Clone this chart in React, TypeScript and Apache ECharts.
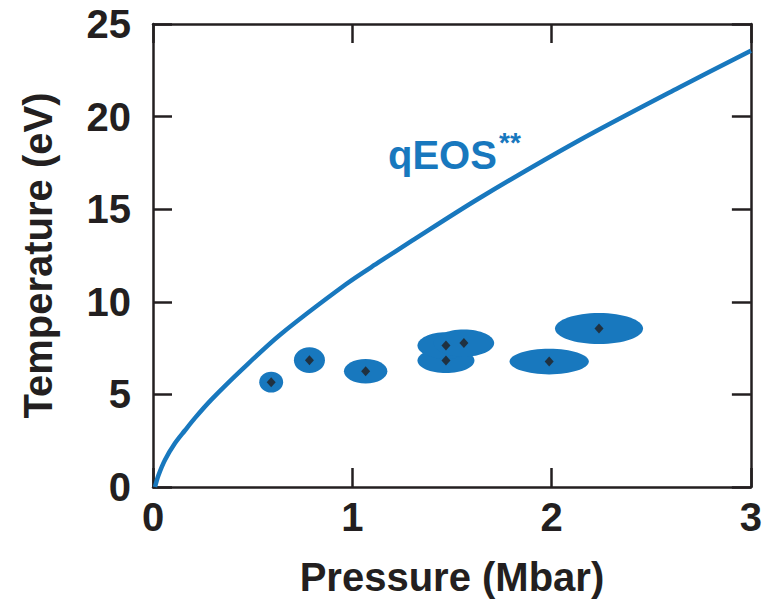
import React, { useEffect, useRef } from "react";
import * as echarts from "echarts";

// qEOS** curve (Pressure in Mbar, Temperature in eV)
const curvePressure = [0.01, 0.027, 0.06, 0.11, 0.16, 0.21, 0.293, 0.45, 0.635, 0.968, 1.135, 1.3, 1.635, 2.135, 2.635, 3.0];
const curveTemperature = [0, 0.62, 1.46, 2.36, 3.05, 3.72, 4.72, 6.38, 8.2, 10.95, 12.15, 13.3, 15.58, 18.7, 21.55, 23.55];

// measured points with error ellipses
const pointPressure = [0.593, 0.785, 1.067, 1.47, 1.47, 1.56, 1.988, 2.238];
const pointTemperature = [5.66, 6.85, 6.25, 6.83, 7.64, 7.77, 6.77, 8.56];
const pointPressureErr = [0.06, 0.078, 0.109, 0.143, 0.143, 0.152, 0.199, 0.221];
const pointTemperatureErr = [0.56, 0.69, 0.66, 0.68, 0.72, 0.74, 0.69, 0.84];

const xMin = 0, xMax = 3, xStep = 1;
const yMin = 0, yMax = 25, yStep = 5;

const BLUE = "#1878be";
const INK = "#231f20";
const FONT = "'Liberation Sans', Arial, Helvetica, sans-serif";

export default function App() {
  const ref = useRef<HTMLDivElement>(null);
  useEffect(() => {
    if (!ref.current) return;
    const chart = echarts.init(ref.current, undefined, { renderer: "svg" });
    const axisLine = { show: true, onZero: false, lineStyle: { color: INK, width: 2.5 } };
    const tickIn = { show: true, inside: true, length: 19, lineStyle: { color: INK, width: 2.5 } };
    const labelStyle = { color: INK, fontSize: 40, fontWeight: "bold" as const, fontFamily: FONT };
    chart.setOption({
      animation: false,
      backgroundColor: "#ffffff",
      grid: { left: 153, right: 12, top: 24, bottom: 118 },
      xAxis: [
        {
          type: "value", min: xMin, max: xMax, interval: xStep, position: "bottom",
          axisLine, axisTick: tickIn, splitLine: { show: false },
          axisLabel: { ...labelStyle, margin: 10 },
          name: "Pressure (Mbar)", nameLocation: "middle", nameGap: 70,
          nameTextStyle: { ...labelStyle },
        },
        {
          type: "value", min: xMin, max: xMax, interval: xStep, position: "top",
          axisLine, axisTick: tickIn, splitLine: { show: false }, axisLabel: { show: false },
        },
      ],
      yAxis: [
        {
          type: "value", min: yMin, max: yMax, interval: yStep, position: "left",
          axisLine, axisTick: tickIn, splitLine: { show: false },
          axisLabel: { ...labelStyle, margin: 22 },
          name: "Temperature (eV)", nameLocation: "middle", nameGap: 95,
          nameTextStyle: { ...labelStyle },
        },
        {
          type: "value", min: yMin, max: yMax, interval: yStep, position: "right",
          axisLine, axisTick: tickIn, splitLine: { show: false }, axisLabel: { show: false },
        },
      ],
      graphic: [
        {
          type: "text", left: 388, top: 135,
          style: { text: "qEOS", fill: BLUE, font: `bold 40px ${FONT}` },
        },
        {
          type: "text", left: 499, top: 128,
          style: { text: "**", fill: BLUE, font: `bold 28px ${FONT}` },
        },
      ],
      series: [
        {
          type: "line",
          data: curvePressure.map((p, i) => [p, curveTemperature[i]]),
          showSymbol: false, smooth: 0.3,
          lineStyle: { color: BLUE, width: 4.5 },
          z: 2,
        },
        {
          type: "custom",
          data: pointPressure.map((p, i) => [p, pointTemperature[i], pointPressureErr[i], pointTemperatureErr[i]]),
          renderItem: (params: any, api: any) => {
            const c = api.coord([api.value(0), api.value(1)]);
            const s = api.size([api.value(2), api.value(3)]);
            return {
              type: "ellipse",
              shape: { cx: c[0], cy: c[1], rx: s[0], ry: s[1] },
              style: { fill: BLUE },
            };
          },
          z: 3,
        },
        {
          type: "scatter",
          data: pointPressure.map((p, i) => [p, pointTemperature[i]]),
          symbol: "diamond", symbolSize: [9, 10],
          itemStyle: { color: INK },
          z: 4,
        },
      ],
    });
    return () => chart.dispose();
  }, []);
  return (
    <div
      ref={ref}
      style={{ position: "absolute", left: 0, top: 0, width: 765, height: 605, background: "#fff" }}
    />
  );
}
